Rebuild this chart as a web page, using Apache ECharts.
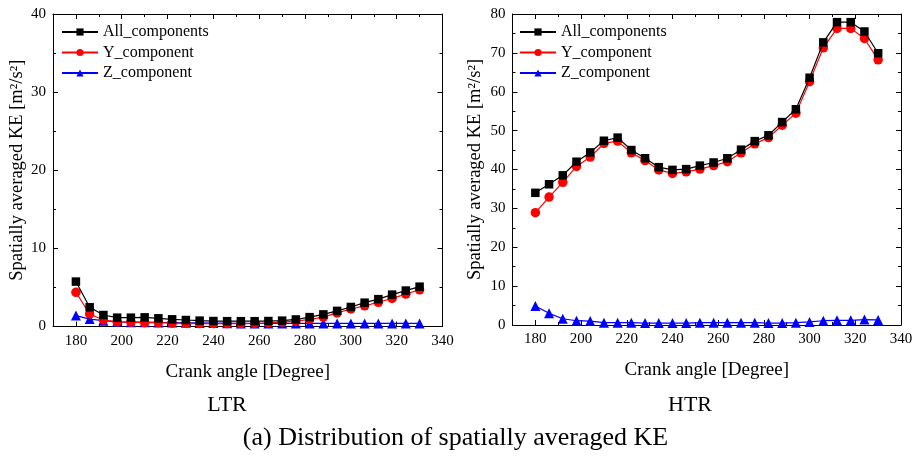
<!DOCTYPE html>
<html>
<head>
<meta charset="utf-8">
<script src="https://cdn.jsdelivr.net/npm/echarts@6/dist/echarts.min.js"></script>
<style>html,body{margin:0;padding:0;background:#fff;}#c{width:920px;height:456px;}</style>
</head>
<body>
<div id="c"></div>
<script>
var crankAngle = [180,186,192,198,204,210,216,222,228,234,240,246,252,258,264,270,276,282,288,294,300,306,312,318,324,330];

var ltrAll = [5.75,2.46,1.47,1.13,1.13,1.17,1.05,0.92,0.83,0.75,0.70,0.68,0.68,0.68,0.70,0.75,0.90,1.20,1.55,2.00,2.50,3.05,3.50,4.08,4.60,5.10];
var ltrY   = [4.38,1.60,0.83,0.60,0.55,0.50,0.50,0.42,0.40,0.37,0.37,0.37,0.37,0.40,0.45,0.55,0.68,0.90,1.20,1.74,2.24,2.65,3.10,3.60,4.15,4.70];
var ltrZ   = [1.40,0.95,0.75,0.60,0.55,0.55,0.52,0.50,0.48,0.46,0.44,0.42,0.40,0.40,0.40,0.40,0.40,0.40,0.40,0.40,0.40,0.40,0.40,0.40,0.40,0.40];

var htrAll = [34.0,36.2,38.5,42.0,44.4,47.4,48.2,45.0,42.9,40.6,39.9,40.1,41.0,41.8,42.9,45.1,47.3,48.8,52.2,55.5,63.6,72.7,77.9,77.9,75.5,69.9];
var htrY   = [28.9,32.9,36.7,40.8,43.2,46.7,47.3,44.3,42.3,39.9,39.0,39.4,40.1,41.0,42.0,44.3,46.6,48.2,51.4,54.5,62.6,71.3,76.3,76.3,73.7,68.2];
var htrZ   = [4.9,3.0,1.6,1.1,1.0,0.6,0.6,0.6,0.5,0.5,0.5,0.5,0.6,0.6,0.6,0.6,0.6,0.5,0.5,0.6,0.8,1.1,1.2,1.2,1.4,1.3];

var xMajor = [180,200,220,240,260,280,300,320,340];
var xMinor = [190,210,230,250,270,290,310,330];
var seriesNames = ['All_components','Y_component','Z_component'];
var panelLabels = ['LTR','HTR'];
var xAxisName = 'Crank angle [Degree]';
var yAxisName = 'Spatially averaged KE [m\u00b2/s\u00b2]';
var figTitle = '(a) Distribution of spatially averaged KE';

var FONT = 'Liberation Serif';
var grids = [
  {left: 53, top: 14, width: 389.5, height: 312.5},
  {left: 512.5, top: 14, width: 388.5, height: 311}
];
var yMax = [40, 80];
var yNameGap = [24, 28];

function pair(xs, ys){ return xs.map(function(x,i){ return [x, ys[i]]; }); }

var option = {
  animation: false,
  backgroundColor: '#fff',
  grid: [],
  xAxis: [],
  yAxis: [],
  series: [],
  legend: [],
  graphic: []
};

var lineStyleAxis = {color:'#000', width:1};
grids.forEach(function(g, p){
  option.grid.push({left:g.left, top:g.top, width:g.width, height:g.height, containLabel:false});
  option.grid.push({left:g.left, top:g.top, width:g.width, height:g.height, containLabel:false});
  var gMain = 2*p, gOver = 2*p+1;
  option.xAxis.push({
    type:'value', gridIndex:gMain, position:'bottom', min:170, max:340, interval:10,
    name: xAxisName, nameLocation:'middle', nameGap:36,
    nameTextStyle:{fontFamily:FONT, fontSize:19, color:'#000'},
    axisLine:{show:true, onZero:false, lineStyle:lineStyleAxis},
    axisTick:{show:true, inside:true, length:5, customValues:xMajor, lineStyle:lineStyleAxis},
    axisLabel:{show:true, customValues:xMajor, fontFamily:FONT, fontSize:15, color:'#000', margin:7},
    splitLine:{show:false}
  });
  option.xAxis.push({
    type:'value', gridIndex:gMain, position:'top', min:170, max:340, interval:10,
    axisLine:{show:true, onZero:false, lineStyle:lineStyleAxis},
    axisTick:{show:true, inside:true, length:5, customValues:xMajor, lineStyle:lineStyleAxis},
    axisLabel:{show:false}, splitLine:{show:false}
  });
  option.xAxis.push({
    type:'value', gridIndex:gOver, position:'bottom', min:170, max:340, interval:10,
    axisLine:{show:false, onZero:false},
    axisTick:{show:true, inside:true, length:3, customValues:xMinor, lineStyle:lineStyleAxis},
    axisLabel:{show:false}, splitLine:{show:false}
  });
  option.xAxis.push({
    type:'value', gridIndex:gOver, position:'top', min:170, max:340, interval:10,
    axisLine:{show:false, onZero:false},
    axisTick:{show:true, inside:true, length:3, customValues:xMinor, lineStyle:lineStyleAxis},
    axisLabel:{show:false}, splitLine:{show:false}
  });
  option.yAxis.push({
    type:'value', gridIndex:gMain, position:'left', min:0, max:yMax[p], interval:10,
    name: yAxisName, nameLocation:'middle', nameGap:yNameGap[p], nameRotate:90,
    nameTextStyle:{fontFamily:FONT, fontSize:18.5, color:'#000'},
    axisLine:{show:true, onZero:false, lineStyle:lineStyleAxis},
    axisTick:{show:true, inside:true, length:5, lineStyle:lineStyleAxis},
    minorTick:{show:true, splitNumber:2, length:3, lineStyle:lineStyleAxis},
    axisLabel:{show:true, fontFamily:FONT, fontSize:15, color:'#000', margin:7},
    splitLine:{show:false}, minorSplitLine:{show:false}
  });
  option.yAxis.push({
    type:'value', gridIndex:gMain, position:'right', min:0, max:yMax[p], interval:10,
    axisLine:{show:true, onZero:false, lineStyle:lineStyleAxis},
    axisTick:{show:true, inside:true, length:5, lineStyle:lineStyleAxis},
    minorTick:{show:true, splitNumber:2, length:3, lineStyle:lineStyleAxis},
    axisLabel:{show:false}, splitLine:{show:false}, minorSplitLine:{show:false}
  });
  option.yAxis.push({
    type:'value', gridIndex:gOver, min:0, max:yMax[p], show:false
  });
});

var colors = ['#000000','#ff0000','#0000ff'];
var symbols = ['rect','circle','triangle'];
var sizes = [8.5,9.5,10];
var dataSets = [[ltrAll, ltrY, ltrZ],[htrAll, htrY, htrZ]];
for (var p=0; p<2; p++){
  for (var s=2; s>=0; s--){
    option.series.push({
      type:'line', name:seriesNames[s], xAxisIndex:4*p, yAxisIndex:3*p,
      data: pair(crankAngle, dataSets[p][s]),
      symbol:symbols[s], symbolSize:sizes[s], showSymbol:true,
      lineStyle:{color:colors[s], width:1.2},
      itemStyle:{color:colors[s], borderWidth:0},
      z: 3 + (2-s)
    });
  }
}

[56, 514].forEach(function(lx){
  option.legend.push({
    show:true, orient:'vertical', left:lx, top:19,
    data: seriesNames,
    itemWidth:36, itemHeight:9, itemGap:4.5,
    textStyle:{fontFamily:FONT, fontSize:16, color:'#000'},
    inactiveColor:'#ccc'
  });
});

option.graphic = [
  {type:'text', x:227, y:405, style:{text:panelLabels[0], fontFamily:FONT, fontSize:22, fill:'#000', textAlign:'center', textVerticalAlign:'middle'}},
  {type:'text', x:690, y:405, style:{text:panelLabels[1], fontFamily:FONT, fontSize:22, fill:'#000', textAlign:'center', textVerticalAlign:'middle'}},
  {type:'text', x:455.5, y:438, style:{text:figTitle, fontFamily:FONT, fontSize:26, fill:'#000', textAlign:'center', textVerticalAlign:'middle'}}
];

var chart = echarts.init(document.getElementById('c'), null, {renderer:'canvas'});
chart.setOption(option);
</script>
</body>
</html>
